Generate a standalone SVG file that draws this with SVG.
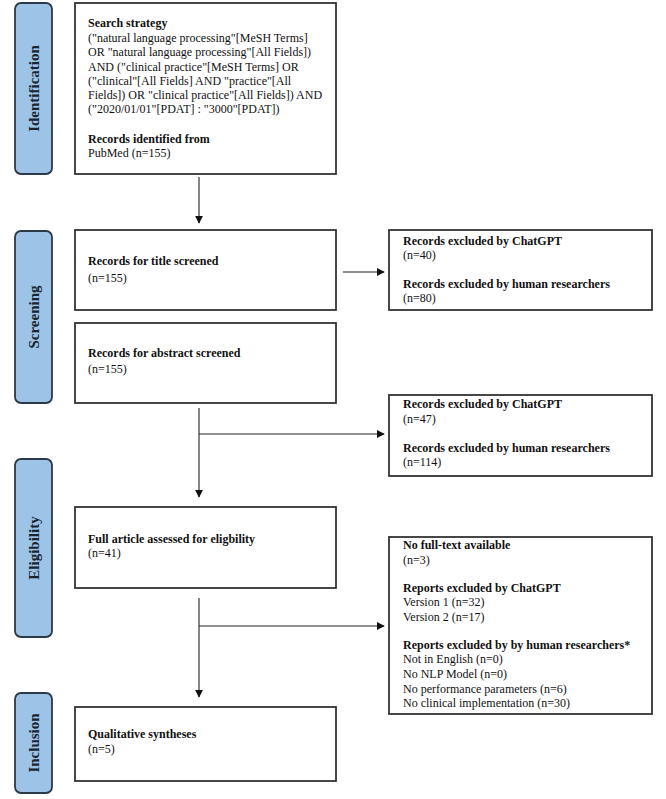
<svg xmlns="http://www.w3.org/2000/svg" width="666" height="799" viewBox="0 0 666 799">
<style>
.box{fill:#fff;stroke:#333;stroke-width:1.8}
.lab{fill:#9dc3e6;stroke:#2b3a48;stroke-width:1.8}
.lt{font-family:"Liberation Serif",serif;font-size:15px;font-weight:bold;fill:#1a2330;text-anchor:middle}
text{font-family:"Liberation Serif",serif;font-size:12px;fill:#111}
.b{font-weight:bold}
.con{stroke:#222;stroke-width:1.1;fill:none}
</style>
<defs>
<marker id="ah" viewBox="0 0 10 10" refX="9" refY="5" markerWidth="8" markerHeight="8" markerUnits="userSpaceOnUse" orient="auto">
<path d="M0,0 L10,5 L0,10 z" fill="#111"/>
</marker>
</defs>
<rect width="666" height="799" fill="#fff"/>
<g id="phase-identification"><rect class="lab" x="15" y="3" width="37" height="171" rx="6"/><text class="lt" transform="translate(38.5,88.5) rotate(-90)">Identification</text></g>
<g id="phase-screening"><rect class="lab" x="15" y="231" width="37" height="172" rx="6"/><text class="lt" transform="translate(38.5,317) rotate(-90)">Screening</text></g>
<g id="phase-eligibility"><rect class="lab" x="15" y="459" width="37" height="178" rx="6"/><text class="lt" transform="translate(38.5,548) rotate(-90)">Eligibility</text></g>
<g id="phase-inclusion"><rect class="lab" x="15" y="693" width="37" height="100" rx="6"/><text class="lt" transform="translate(38.5,743) rotate(-90)">Inclusion</text></g>

<g id="identification">
<rect class="box" x="75" y="3" width="261" height="171"/>
<text x="88" y="27" class="b">Search strategy</text>
<text x="88" y="42">("natural language processing"[MeSH Terms]</text>
<text x="88" y="56">OR "natural language processing"[All Fields])</text>
<text x="88" y="71">AND ("clinical practice"[MeSH Terms] OR</text>
<text x="88" y="85">("clinical"[All Fields] AND "practice"[All</text>
<text x="88" y="99">Fields]) OR "clinical practice"[All Fields]) AND</text>
<text x="88" y="113">("2020/01/01"[PDAT] : "3000"[PDAT])</text>
<text x="88" y="143" class="b">Records identified from</text>
<text x="88" y="157">PubMed (n=155)</text>
</g>

<g id="title-screened">
<rect class="box" x="75" y="230" width="261" height="80"/>
<text x="88" y="265" class="b">Records for title screened</text>
<text x="88" y="282">(n=155)</text>
</g>

<g id="abstract-screened">
<rect class="box" x="75" y="323" width="261" height="80"/>
<text x="88" y="357" class="b">Records for abstract screened</text>
<text x="88" y="373">(n=155)</text>
</g>

<g id="full-article">
<rect class="box" x="75" y="507" width="261" height="81"/>
<text x="88" y="543" class="b">Full article assessed for eligbility</text>
<text x="88" y="557">(n=41)</text>
</g>

<g id="qualitative">
<rect class="box" x="75" y="707" width="261" height="74"/>
<text x="88" y="738" class="b">Qualitative syntheses</text>
<text x="88" y="753">(n=5)</text>
</g>

<g id="excluded-title">
<rect class="box" x="389" y="230" width="263" height="80"/>
<text x="403" y="245" class="b">Records excluded by ChatGPT</text>
<text x="403" y="259">(n=40)</text>
<text x="403" y="288" class="b">Records excluded by human researchers</text>
<text x="403" y="302">(n=80)</text>
</g>

<g id="excluded-abstract">
<rect class="box" x="389" y="395" width="263" height="81"/>
<text x="403" y="408" class="b">Records excluded by ChatGPT</text>
<text x="403" y="423">(n=47)</text>
<text x="403" y="452" class="b">Records excluded by human researchers</text>
<text x="403" y="466">(n=114)</text>
</g>

<g id="excluded-reports">
<rect class="box" x="389" y="537" width="263" height="177"/>
<text x="403" y="549" class="b">No full-text available</text>
<text x="403" y="564">(n=3)</text>
<text x="403" y="592" class="b">Reports excluded by ChatGPT</text>
<text x="403" y="606">Version 1 (n=32)</text>
<text x="403" y="621">Version 2 (n=17)</text>
<text x="403" y="649" class="b">Reports excluded by by human researchers*</text>
<text x="403" y="663">Not in English (n=0)</text>
<text x="403" y="678">No NLP Model (n=0)</text>
<text x="403" y="693">No performance parameters (n=6)</text>
<text x="403" y="707">No clinical implementation (n=30)</text>
</g>

<g id="connectors">
<path class="con" d="M199,177 V223" marker-end="url(#ah)"/>
<path class="con" d="M343,272 H384" marker-end="url(#ah)"/>
<path class="con" d="M199,408 V497" marker-end="url(#ah)"/>
<path class="con" d="M199,434 H384" marker-end="url(#ah)"/>
<path class="con" d="M199,598 V697" marker-end="url(#ah)"/>
<path class="con" d="M199,626 H384" marker-end="url(#ah)"/>
</g>
</svg>
